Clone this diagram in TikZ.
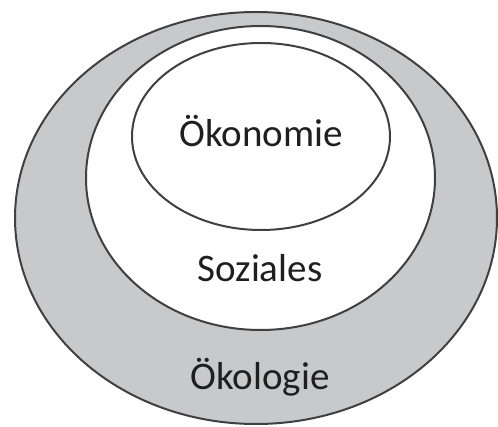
\documentclass[tikz,border=0pt]{standalone}
\usepackage{fontspec}
\setmainfont{Carlito}
\usetikzlibrary{positioning}
\definecolor{ringgray}{RGB}{200,201,203}
\definecolor{linegray}{RGB}{64,64,64}
\tikzset{
  ring/.style={draw=linegray, line width=2pt},
  ringtext/.style={font=\fontsize{39}{44}\selectfont, text=black!88, anchor=base}
}

\begin{document}
\begin{tikzpicture}[x=1pt,y=-1pt]
    \useasboundingbox (0,0) rectangle (498,427);

    % Oekologie (outer ring)
    \filldraw[ring, fill=ringgray] (256,218) ellipse [x radius=241, y radius=206];

    % Soziales
    \filldraw[ring, fill=white] (260.5,178) ellipse [x radius=174.5, y radius=152];

    % Oekonomie
    \filldraw[ring, fill=white] (261,136.5) ellipse [x radius=129, y radius=93.5];

    % Labels
    \node[ringtext] (oekonomie) at (261,147) {Ökonomie};
    \node[ringtext] (soziales) at (260,282) {Soziales};
    \node[ringtext] (oekologie) at (260,390) {Ökologie};
\end{tikzpicture}
\end{document}
